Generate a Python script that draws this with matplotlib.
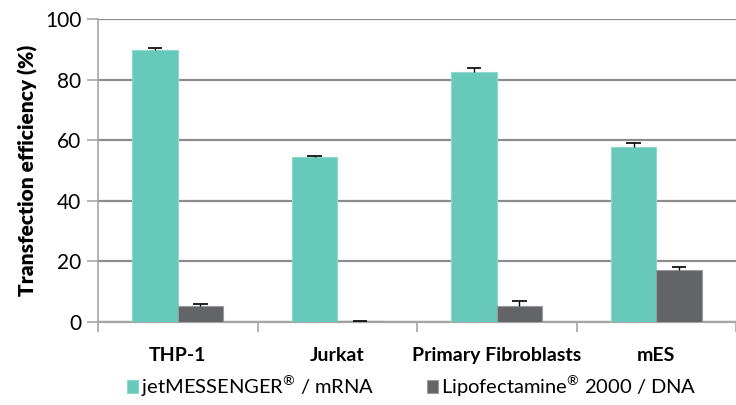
import numpy as np
import matplotlib.pyplot as plt

plt.rcParams['font.family'] = ['Lato', 'DejaVu Sans']
plt.rcParams['mathtext.fontset'] = 'custom'
plt.rcParams['mathtext.rm'] = 'Lato'

cells = ["THP-1", "Jurkat", "Primary Fibroblasts", "mES"]
jet_vals = [89.7, 54.5, 82.6, 57.6]
jet_err = [0.6, 0.4, 1.2, 1.6]
lipo_vals = [5.4, 0.2, 5.2, 17.1]
lipo_err = [0.5, 0.2, 1.7, 1.2]
series_names = [r"jetMESSENGER$^{\mathrm{®}}$ / mRNA", r"Lipofectamine$^{\mathrm{®}}$ 2000 / DNA"]
yticks = [0, 20, 40, 60, 80, 100]

teal = "#67c9b9"
grey = "#636468"

fig = plt.figure(figsize=(7.36, 4.05), dpi=100)
ax = fig.add_axes([98/736, 83/405, 1 - 98/736, 303/405])

x = np.arange(len(cells))
w = 0.284


def bars(pos, vals, errs, color, edge, label):
    ax.bar(pos, vals, w, color=color, edgecolor=edge, linewidth=0.8, label=label, zorder=3)
    # upper-only error bars with a single cap
    tops = np.array(vals) + np.array(errs)
    ax.vlines(pos, vals, tops, color="black", linewidth=1, zorder=4)
    ax.hlines(tops, pos - 0.045, pos + 0.045, color="black", linewidth=1.2, zorder=4)


bars(x - w/2, jet_vals, jet_err, teal, "#8fd8cc", series_names[0])
bars(x + w/2, lipo_vals, lipo_err, grey, "#9a9a9c", series_names[1])

ax.set_ylim(0, 100)
ax.set_xlim(-0.5, 3.46)
ax.set_yticks(yticks)
ax.tick_params(axis='y', labelsize=15, length=8, width=1.2, color="#a6a6a6", pad=4)
ax.yaxis.grid(True, color="#8c8c8c", linewidth=1.6, zorder=0)
ax.set_axisbelow(True)

ax.set_xticks(np.arange(len(cells) + 1) - 0.5)
ax.set_xticklabels([])
ax.tick_params(axis='x', which='major', length=7, width=1.2, color="#a6a6a6")
ax.set_xticks(x, minor=True)
ax.set_xticklabels(cells, minor=True, fontsize=14, fontweight='bold')
ax.tick_params(axis='x', which='minor', length=0, pad=18)

for s in ['top', 'right']:
    ax.spines[s].set_visible(False)
ax.spines['left'].set_color("#a6a6a6")
ax.spines['left'].set_linewidth(1.2)
ax.spines['bottom'].set_color("#a6a6a6")
ax.spines['bottom'].set_linewidth(1.6)

ax.set_ylabel("Transfection efficiency (%)", fontsize=15, fontweight='heavy', labelpad=5)

fig.legend(loc='center', bbox_to_anchor=(412/736, 1 - 386/405), ncol=2, frameon=False,
           fontsize=14.5, handlelength=0.55, handleheight=0.55, handletextpad=0.15,
           columnspacing=2.6)

fig.savefig("out.png", dpi=100)
